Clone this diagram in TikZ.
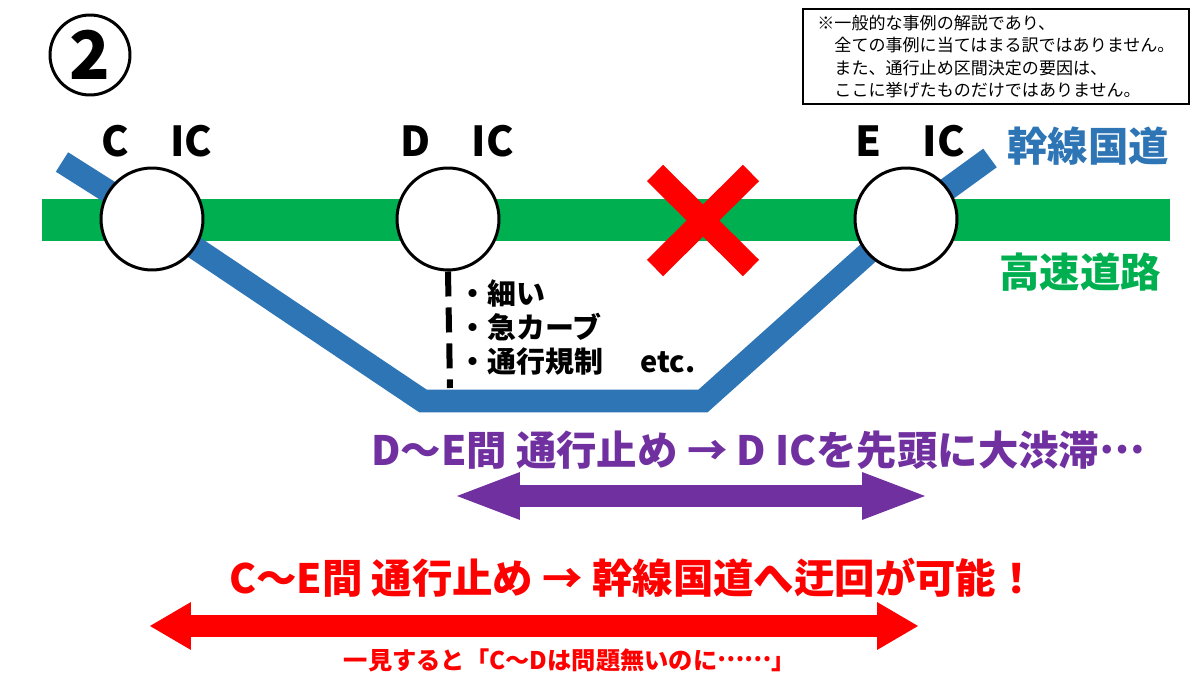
\documentclass[tikz,border=0pt]{standalone}
\usepackage{fontspec}
\setmainfont{Noto Sans CJK JP}
\usepackage{xcolor}
\definecolor{cRoad}{HTML}{2E75B6}
\definecolor{cHwy}{HTML}{00B050}
\definecolor{cStop}{HTML}{FF0000}
\definecolor{cJam}{HTML}{7030A0}
\usepackage{tikz}
\usetikzlibrary{positioning,arrows.meta}
\newcommand{\midellip}{\raisebox{0.3em}{…}}
\tikzset{
  lbl-ic/.style={font=\fontsize{23.5}{27}\selectfont\bfseries,inner sep=0pt},
  lbl-road/.style={font=\fontsize{23}{28}\selectfont\bfseries,inner sep=0pt},
  lbl-cause/.style={font=\fontsize{16.5}{20}\selectfont\bfseries,inner sep=0pt,anchor=west},
  lbl-main/.style={font=\fontsize{23}{28}\selectfont\bfseries,inner sep=0pt},
  lbl-sub/.style={font=\fontsize{13.8}{17}\selectfont\bfseries,inner sep=0pt},
  node-ic/.style={circle,draw=black,line width=0.06cm,fill=white,
    minimum size=2.04cm,inner sep=0pt},
  node-num/.style={circle,draw=black,line width=0.06cm,minimum size=1.6cm,
    inner sep=0pt,font=\fontsize{38}{40}\selectfont\bfseries},
  node-note/.style={draw=black,line width=0.04cm,minimum width=7.72cm,
    minimum height=1.88cm,align=left,font=\fontsize{9.7}{12.8}\selectfont},
  band-hwy/.style={line width=0.84cm,draw=cHwy},
  band-road/.style={line width=0.46cm,draw=cRoad},
  mark-stop/.style={line width=0.46cm,draw=cStop},
  line-branch/.style={line width=0.12cm,draw=black,dash pattern=on 0.5cm off 0.22cm},
  % 太い両矢印：紫 = 渋滞区間 / 赤 = 迂回可能区間
  arrow-jam/.style={line width=0.44cm,draw=cJam,
    {Triangle[length=1.26cm,width=0.96cm,line width=0pt]}-{Triangle[length=1.26cm,width=0.96cm,line width=0pt]}},
  arrow-detour/.style={line width=0.44cm,draw=cStop,
    {Triangle[length=0.82cm,width=0.96cm,line width=0pt]}-{Triangle[length=0.82cm,width=0.96cm,line width=0pt]}},
}

\begin{document}
\begin{tikzpicture}[x=0.02cm,y=-0.02cm]
  \useasboundingbox (0,0) rectangle (1200,675);
  % 番号と注記
  \node[node-num] (num) at (90,55) {2};
  \node[node-note,anchor=north west] (note) at (802,8)
    {※一般的な事例の解説であり、\\
     　全ての事例に当てはまる訳ではありません。\\
     　また、通行止め区間決定の要因は、\\
     　ここに挙げたものだけではありません。};
  % 高速道路と幹線国道
  \coordinate (c) at (152,219);
  \coordinate (d) at (448,219);
  \coordinate (e) at (906,219);
  \draw[band-hwy] (42,220) -- (1170,220);
  \draw[band-road] (62,162) -- (c) -- (423,401) -- (703,401) -- (e) -- (990,158);
  \draw[mark-stop] (655,173) -- (751,268) (751,173) -- (655,268);
  \node[node-ic] (ic-c) at (c) {};
  \node[node-ic] (ic-d) at (d) {};
  \node[node-ic] (ic-e) at (e) {};
  \node[lbl-ic] (lbl-c) at (157,141) {C　IC};
  \node[lbl-ic] (lbl-d) at (457,141) {D　IC};
  \node[lbl-ic] (lbl-e) at (910,141) {E　IC};
  \node[lbl-road,text=cRoad] (name-road) at (1088,146) {幹線国道};
  \node[lbl-road,text=cHwy] (name-hwy) at (1080,272) {高速道路};
  % D IC から国道への連絡路
  \coordinate (d-end) at (450,388);
  \draw[line-branch] (ic-d.south) -- (d-end);
  \node[lbl-cause] (cause-1) at (458,293) {・細い};
  \node[lbl-cause] (cause-2) at (458,327) {・急カーブ};
  \node[lbl-cause] (cause-3) at (458,362) {・通行規制};
  \node[lbl-cause] (cause-etc) at (640,362) {etc.};
  % 通行止め区間ごとの結果
  \node[lbl-main,text=cJam] (res-de) at (758,450) {D〜E間 通行止め → D ICを先頭に大渋滞\midellip};
  \coordinate (jam-l) at (457,496);
  \coordinate (jam-r) at (925,496);
  \draw[arrow-jam] (jam-l) -- (jam-r);
  \node[lbl-main,text=cStop] (res-ce) at (633,578) {C〜E間 通行止め → 幹線国道へ迂回が可能！};
  \coordinate (det-l) at (150,626);
  \coordinate (det-r) at (918,626);
  \draw[arrow-detour] (det-l) -- (det-r);
  \node[lbl-sub,text=cStop] (res-note) at (570,660) {一見すると「C〜Dは問題無いのに\midellip\midellip」};
\end{tikzpicture}
\end{document}
